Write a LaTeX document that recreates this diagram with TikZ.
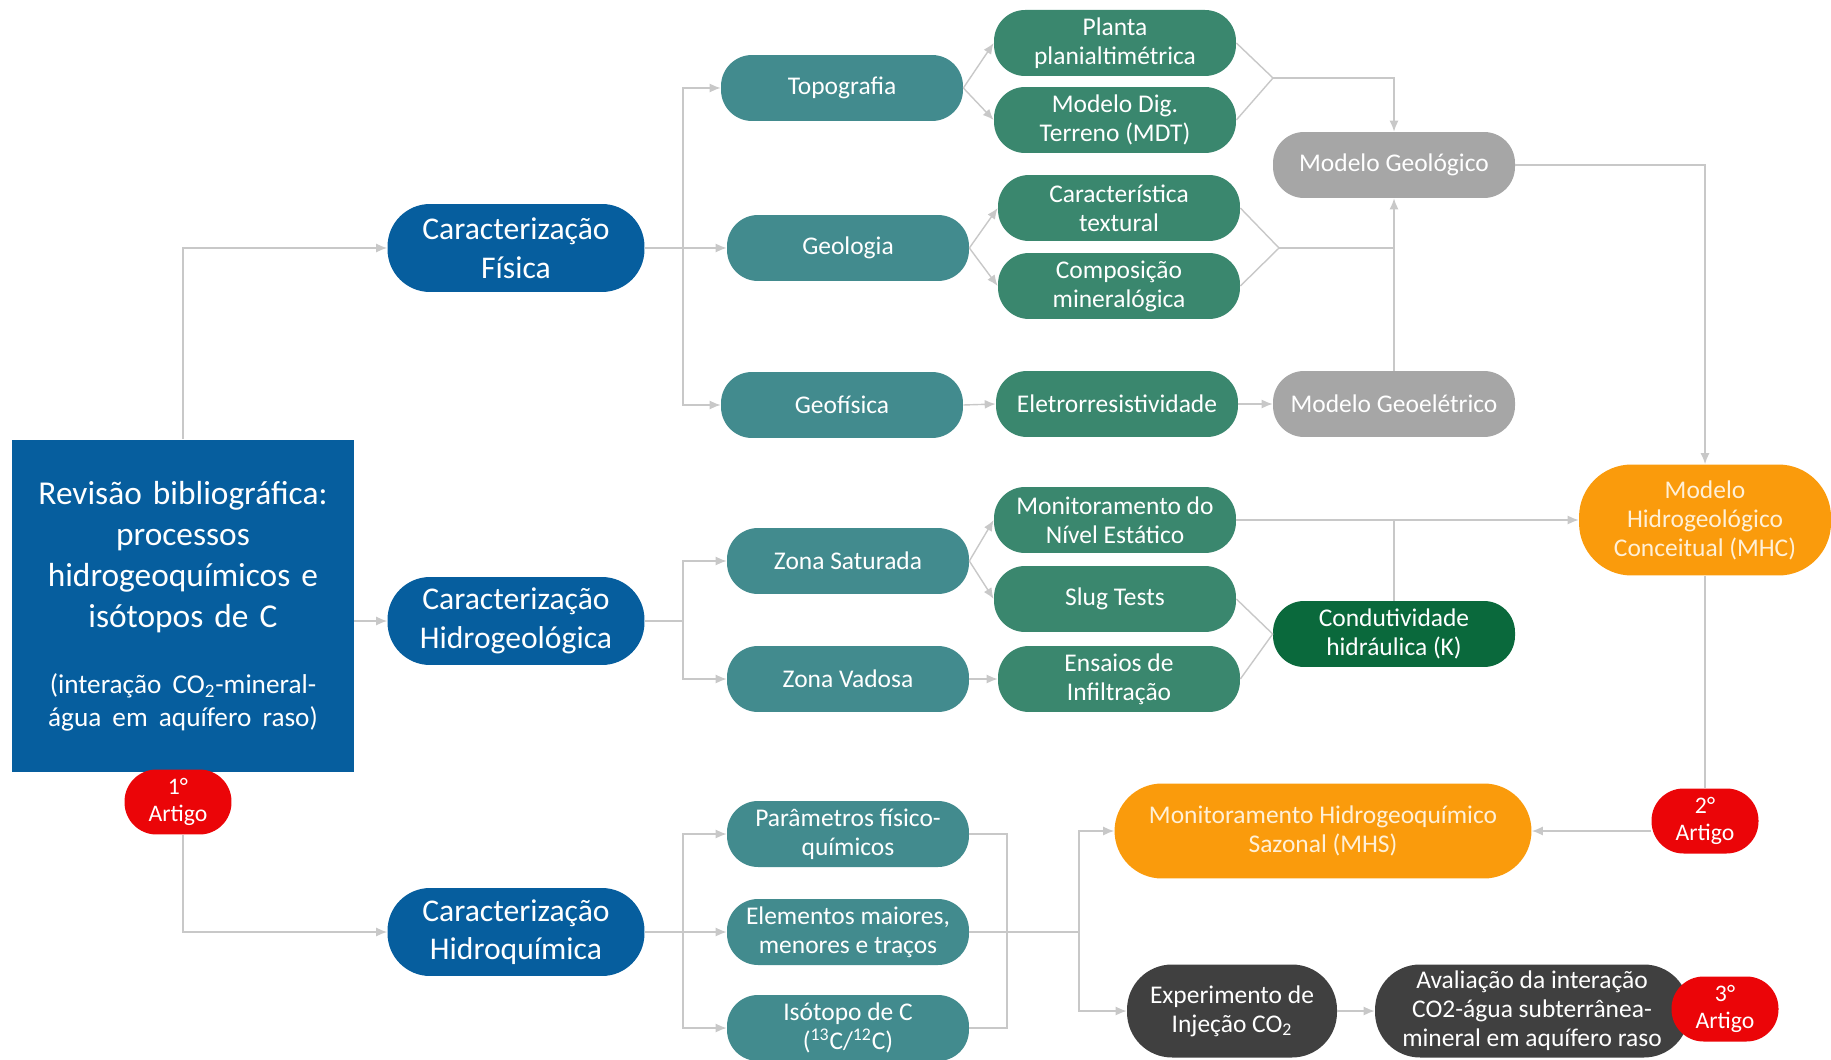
\documentclass[tikz,border=0pt]{standalone}
\usepackage{fontspec}
\setmainfont{Carlito}
\usetikzlibrary{arrows.meta}

\definecolor{azulescuro}{RGB}{6,94,158}
\definecolor{petroleo}{RGB}{66,139,142}
\definecolor{verdeagua}{RGB}{58,135,110}
\definecolor{verdeescuro}{RGB}{10,105,60}
\definecolor{cinzaclaro}{RGB}{166,166,166}
\definecolor{cinzaescuro}{RGB}{64,64,64}
\definecolor{laranja}{RGB}{250,155,12}
\definecolor{vermelho}{RGB}{235,5,8}
\definecolor{linhacor}{RGB}{200,200,200}
\definecolor{creme}{RGB}{255,240,215}

\tikzset{
  caixa/.style={rectangle,rounded corners=0.62cm,minimum width=4.84cm,minimum height=1.32cm,inner sep=1pt,align=center,text=white,font=\fontsize{14.5}{16.5}\selectfont},
  etapa/.style={caixa,fill=petroleo},
  dado/.style={caixa,fill=verdeagua},
  modelo/.style={caixa,fill=cinzaclaro},
  condut/.style={caixa,fill=verdeescuro},
  carac/.style={caixa,fill=azulescuro,minimum width=5.14cm,minimum height=1.76cm,rounded corners=0.85cm,font=\fontsize{18}{22}\selectfont},
  artigo/.style={caixa,fill=vermelho,minimum width=2.14cm,minimum height=1.3cm,rounded corners=0.64cm,font=\fontsize{13.5}{15.5}\selectfont},
  resultado/.style={caixa,fill=laranja,text=creme},
  experimento/.style={caixa,fill=cinzaescuro,minimum height=1.86cm,rounded corners=0.9cm},
  revisao/.style={rectangle,fill=azulescuro,text=white,minimum width=6.84cm,minimum height=6.66cm,text width=6.7cm,inner sep=0pt,font=\fontsize{19}{23.5}\selectfont},
  linha/.style={draw=linhacor,line width=0.8pt},
  seta/.style={linha,-{Latex[length=2.2mm,width=1.8mm]}},
}

\begin{document}
\begin{tikzpicture}[x=0.02cm,y=-0.02cm]
\useasboundingbox (0,0) rectangle (1831,1060);

% revisao e caracterizacoes
\node[revisao] (rev) at (183,606) {\centering Revisão bibliográfica:\\processos\\hidrogeoquímicos e\\isótopos de C\par\vspace{19pt}\fontsize{15.5}{18.5}\selectfont(interação CO\textsubscript{2}-mineral-\\água em aquífero raso)\par};
\node[artigo] (art1) at (178,802) {1°\\Artigo};
\node[carac] (fis) at (516,248) {Caracterização\\Física};
\node[carac] (hgeo) at (516,621) {Caracterização\\Hidrogeológica};
\node[carac] (hquim) at (516,932) {Caracterização\\Hidroquímica};

% etapas
\node[etapa] (topo) at (842,88) {Topografia};
\node[etapa] (geol) at (848,248) {Geologia};
\node[etapa] (geof) at (842,405) {Geofísica};
\node[etapa] (zsat) at (848,561) {Zona Saturada};
\node[etapa] (zvad) at (848,679) {Zona Vadosa};
\node[etapa] (param) at (848,834) {Parâmetros físico-\\químicos};
\node[etapa] (elem) at (848,932) {Elementos maiores,\\menores e traços};
\node[etapa] (isot) at (848,1028) {Isótopo de C\\(\textsuperscript{13}C/\textsuperscript{12}C)};

% dados
\node[dado] (planta) at (1115,43) {Planta\\planialtimétrica};
\node[dado] (mdt) at (1115,120) {Modelo Dig.\\Terreno (MDT)};
\node[dado] (textura) at (1119,208) {Característica\\textural};
\node[dado] (comp) at (1119,286) {Composição\\mineralógica};
\node[dado] (eletro) at (1117,404) {Eletrorresistividade};
\node[dado] (nivel) at (1115,520) {Monitoramento do\\Nível Estático};
\node[dado] (slug) at (1115,599) {Slug Tests};
\node[dado] (ensaio) at (1119,679) {Ensaios de\\Infiltração};

% modelos
\node[modelo] (mgeol) at (1394,165) {Modelo Geológico};
\node[modelo] (mgeoe) at (1394,404) {Modelo Geoelétrico};
\node[condut] (cond) at (1394,634) {Condutividade\\hidráulica (K)};
\node[resultado,minimum width=5.04cm,minimum height=2.22cm,rounded corners=1.05cm] (mhc) at (1705,520) {Modelo\\Hidrogeológico\\Conceitual (MHC)};
\node[resultado,minimum width=8.34cm,minimum height=1.9cm,rounded corners=0.95cm] (mhs) at (1323,831) {Monitoramento Hidrogeoquímico\\Sazonal (MHS)};
\node[artigo] (art2) at (1705,821) {2°\\Artigo};
\node[experimento,minimum width=4.2cm] (exper) at (1232,1011) {Experimento de\\Injeção CO\textsubscript{2}};
\node[experimento,minimum width=6.28cm] (aval) at (1532,1011) {Avaliação da interação\\CO2-água subterrânea-\\mineral em aquífero raso};
\node[artigo] (art3) at (1725,1009) {3°\\Artigo};

% ligacoes da revisao
\draw[seta] (rev.north) |- (fis.west);
\draw[seta] (rev.east |- hgeo.west) -- (hgeo.west);
\draw[seta] (art1.south -| rev.south) |- (hquim.west);

% ramos
\coordinate (jf) at (683,248);
\coordinate (jh) at (683,621);
\coordinate (jq) at (683,932);
\draw[linha] (fis.east) -- (jf);
\draw[seta] (jf) |- (topo.west);
\draw[seta] (jf) -- (geol.west);
\draw[seta] (jf) |- (geof.west);
\draw[linha] (hgeo.east) -- (jh);
\draw[seta] (jh) |- (zsat.west);
\draw[seta] (jh) |- (zvad.west);
\draw[linha] (hquim.east) -- (jq);
\draw[seta] (jq) |- (param.west);
\draw[seta] (jq) -- (elem.west);
\draw[seta] (jq) |- (isot.west);

\draw[seta] (topo.east) -- (planta.west);
\draw[seta] (topo.east) -- (mdt.west);
\draw[seta] (geol.east) -- (textura.west);
\draw[seta] (geol.east) -- (comp.west);
\draw[seta] (geof.east) -- (eletro.west);
\draw[seta] (eletro.east) -- (mgeoe.west);
\draw[seta] (zsat.east) -- (nivel.west);
\draw[seta] (zsat.east) -- (slug.west);
\draw[seta] (zvad.east) -- (ensaio.west);

% modelo geologico
\coordinate (m1) at (1273,78);
\coordinate (m2) at (1279,248);
\draw[linha] (planta.east) -- (m1) -- (mdt.east);
\draw[seta] (m1) -| (mgeol.north);
\draw[linha] (textura.east) -- (m2) -- (comp.east);
\draw[linha] (m2) -- (m2 -| mgeol.south);
\draw[seta] (mgeoe.north) -- (mgeol.south);
\draw[seta] (mgeol.east) -| (mhc.north);

% modelo hidrogeologico
\draw[seta] (nivel.east) -- (mhc.west);
\draw[linha] (cond.north) -- (cond.north |- nivel.east);
\draw[linha] (slug.east) -- (cond.west) -- (ensaio.east);
\draw[linha] (mhc.south) -- (art2.north);
\draw[seta] (art2.west |- mhs.east) -- (mhs.east);

% hidroquimica
\coordinate (b1) at (1007,834);
\coordinate (b2) at (1079,932);
\draw[linha] (param.east) -- (b1) |- (isot.east);
\draw[linha] (elem.east) -- (b2);
\draw[seta] (b2) |- (mhs.west);
\draw[seta] (b2) |- (exper.west);
\draw[seta] (exper.east) -- (aval.west);
\end{tikzpicture}
\end{document}
